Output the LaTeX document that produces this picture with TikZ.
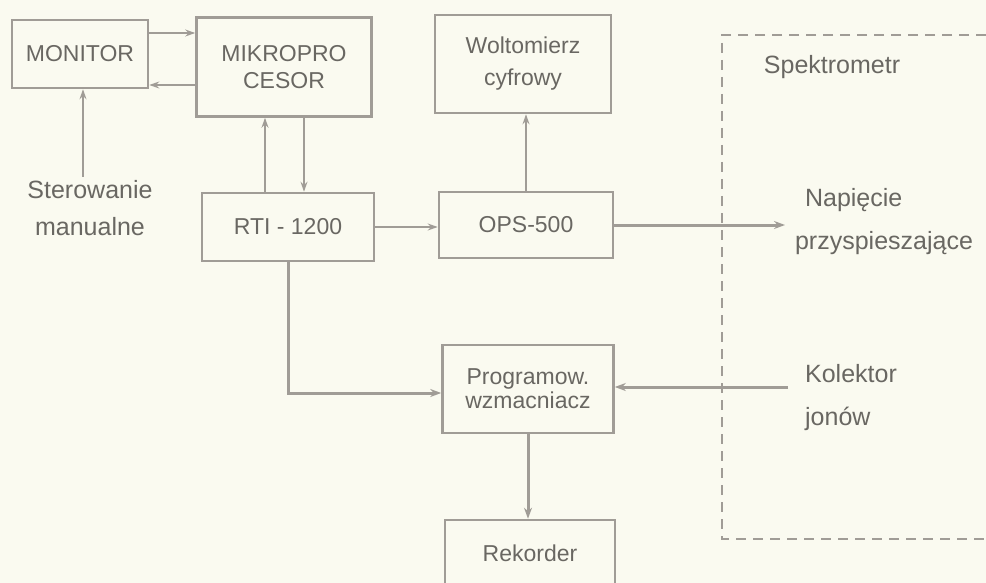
\documentclass[tikz,border=0pt]{standalone}
\usepackage{fontspec}
\setmainfont{Liberation Sans}
\usepackage{xcolor}
\usetikzlibrary{positioning, calc, arrows.meta}

\definecolor{paper}{RGB}{250,250,240}
\definecolor{ink}{RGB}{160,156,150}
\definecolor{letter}{RGB}{105,103,98}

\begin{document}
\begin{tikzpicture}[
    x=1pt, y=-1pt,
    block/.style={
        rectangle, draw=ink, line width=2.6pt, fill=paper,
        inner sep=0pt, align=center, text=letter,
        font=\fontsize{23}{27}\selectfont
    },
    label/.style={align=left, text=letter, font=\fontsize{25}{43}\selectfont},
    sig/.style={-{Stealth[length=10pt, width=7pt]}, draw=ink, line width=1.4pt},
    bus/.style={-{Stealth[length=11pt, width=8pt]}, draw=ink, line width=3pt}
]

% 0. Page and clipping (Rekorder runs off the bottom edge)
\useasboundingbox (0,0) rectangle (986,583);
\fill[paper] (0,0) rectangle (986,583);
\clip (0,0) rectangle (986,583);

% 1. Blocks
\node[block, minimum width=136pt, minimum height=68pt] (monitor) at (80,54) {MONITOR};
\node[block, minimum width=175pt, minimum height=99pt] (mikro) at (284,67) {MIKROPRO\\CESOR};
\node[block, minimum width=172pt, minimum height=68pt] (rti) at (288,227) {RTI - 1200};
\node[block, minimum width=176pt, minimum height=98pt,
      font=\fontsize{23}{32}\selectfont] (wolt) at (523,64) {Woltomierz\\cyfrowy};
\node[block, minimum width=174pt, minimum height=66pt] (ops) at (526,225) {OPS-500};
\node[block, minimum width=171pt, minimum height=88pt,
      font=\fontsize{23}{24}\selectfont] (prog) at (528,389) {Programow.\\wzmacniacz};
\node[block, minimum width=170pt, minimum height=66pt] (rek) at (530,553) {Rekorder};

% 2. Free labels
\node[label, align=center, font=\fontsize{25}{37}\selectfont] (ster) at (90,208) {Sterowanie\\manualne};
\node[label] (spektro) at (832,67) {Spektrometr};
\node[label] (napiecie) at (884,222) {\hspace*{10pt}Napięcie\\przyspieszające};
\node[label] (kolektor) at (851,398) {Kolektor\\jonów};

% 3. Spectrometer boundary (open to the right)
\draw[ink, line width=1.4pt, dash pattern=on 10pt off 7pt]
    (986,35) -- (722,35) -- (722,539) -- (986,539);

% 4. Signal lines
\draw[sig] ([yshift=21pt]monitor.east) -- ([yshift=21pt]monitor.east -| mikro.west);
\draw[sig] ([yshift=-18pt]mikro.west) -- ([yshift=-18pt]mikro.west -| monitor.east);
\draw[sig] ([xshift=-7pt]ster.north) -- ([xshift=-7pt]ster.north |- monitor.south);
\draw[sig] ([xshift=-23pt]rti.north) -- ([xshift=-23pt]rti.north |- mikro.south);
\draw[sig] ([xshift=20pt]mikro.south) -- ([xshift=20pt]mikro.south |- rti.north);
\draw[sig] (rti.east) -- (rti.east -| ops.west);
\draw[sig] (ops.north) -- (ops.north |- wolt.south);

% 5. Heavy lines
\coordinate (napEnd) at (785,225);
\coordinate (kolStart) at (788,387);
\draw[bus] (ops.east) -- (napEnd);
\draw[bus] (kolStart) -- (kolStart -| prog.east);
\draw[bus] (rti.south) |- ([yshift=-4pt]prog.west);
\draw[bus] (prog.south) -- (prog.south |- rek.north);

\end{tikzpicture}
\end{document}
